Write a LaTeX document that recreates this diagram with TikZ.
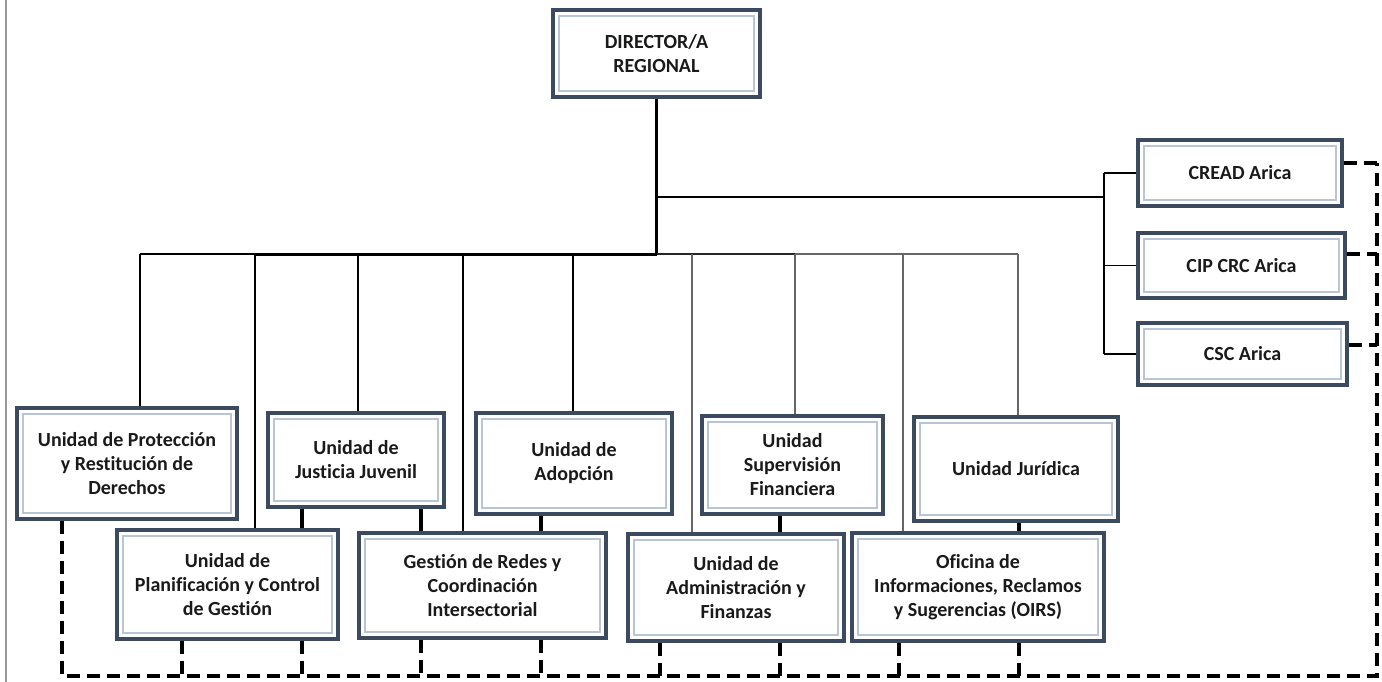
\documentclass[tikz,border=0pt]{standalone}
\usepackage{fontspec}
\setmainfont{Carlito}[Ligatures=NoCommon]
\definecolor{boxc}{HTML}{3B4A5E}
\definecolor{innerc}{HTML}{B8C5D6}
\definecolor{txtc}{HTML}{1A1A1A}
\begin{document}
\begin{tikzpicture}[x=1pt,y=-1pt,
 ubox/.style={draw=boxc, line width=3.6pt, fill=white, align=center, inner sep=0pt, text=txtc,
   font=\fontsize{20}{24}\selectfont\bfseries,
   path picture={\draw[innerc, line width=1.6pt] ([shift={(6pt,6pt)}]path picture bounding box.south west) rectangle ([shift={(-6pt,-6pt)}]path picture bounding box.north east);}},
 conn/.style={line width=1.6pt, black},
 medconn/.style={line width=2.2pt, black!85},
 mainconn/.style={line width=3pt, black},
 greyconn/.style={line width=1.6pt, black!60},
 dashc/.style={line width=3.3pt, black, dash pattern=on 13pt off 7pt},
 linkc/.style={line width=3.3pt, black}]
\useasboundingbox (0,0) rectangle (1382,682);
\fill[white] (0,0) rectangle (1382,682);
\draw[black!40, line width=2pt] (6,0) -- (6,682);

% boxes
\node[ubox, minimum width=207pt, minimum height=87pt] (dir) at (656.5,53.5) {DIRECTOR/A\\REGIONAL};
\node[ubox, minimum width=220pt, minimum height=111pt] (prot) at (127,463.5) {Unidad de Protección\\y Restitución de\\Derechos};
\node[ubox, minimum width=176pt, minimum height=94pt] (just) at (356,460) {Unidad de\\Justicia Juvenil};
\node[ubox, minimum width=196pt, minimum height=101pt] (adop) at (574,463.5) {Unidad de\\Adopción};
\node[ubox, minimum width=181pt, minimum height=98pt] (sup) at (792.5,465) {Unidad\\Supervisión\\Financiera};
\node[ubox, minimum width=204pt, minimum height=104pt] (jur) at (1016,469) {Unidad Jurídica};
\node[ubox, minimum width=221pt, minimum height=109pt] (plan) at (227.5,584.5) {Unidad de\\Planificación y Control\\de Gestión};
\node[ubox, minimum width=247pt, minimum height=105pt] (gest) at (482.5,585.5) {Gestión de Redes y\\Coordinación\\Intersectorial};
\node[ubox, minimum width=216pt, minimum height=107pt] (admin) at (736,587.5) {Unidad de\\Administración y\\Finanzas};
\node[ubox, minimum width=252pt, minimum height=108pt] (oirs) at (978,587) {Oficina de\\Informaciones, Reclamos\\y Sugerencias (OIRS)};
\node[ubox, minimum width=204pt, minimum height=66pt] (cread) at (1240,173) {CREAD Arica};
\node[ubox, minimum width=207pt, minimum height=65pt] (cip) at (1241.5,265.5) {CIP CRC Arica};
\node[ubox, minimum width=209pt, minimum height=62pt] (csc) at (1242.5,354) {CSC Arica};

% solid hierarchy
\coordinate (rb) at (1104,197);
\coordinate (busL) at (140,254);
\coordinate (busA) at (255,254);
\coordinate (busB) at (795,254);
\coordinate (busR) at (1018,254);
\draw[mainconn] (dir.south) -- (dir.south |- busL);
\draw[conn] (dir.south |- rb) -- (rb);
\draw[conn] (rb |- cread.west) -- (rb |- csc.west);
\draw[conn] (rb |- cread.west) -- (cread.west);
\draw[conn] (rb |- cip.west) -- (cip.west);
\draw[conn] (rb |- csc.west) -- (csc.west);
\draw[conn] (busL) -- (busA);
\draw[mainconn] (busA) -- (dir.south |- busL);
\draw[medconn] (dir.south |- busL) -- (busB);
\draw[greyconn] (busB) -- (busR);
\coordinate (d1) at (140,254);
\coordinate (d2) at (255,254);
\coordinate (d3) at (358,254);
\coordinate (d4) at (463,254);
\coordinate (d5) at (573,254);
\coordinate (d6) at (692,254);
\coordinate (d7) at (795,254);
\coordinate (d8) at (903,254);
\coordinate (d9) at (1018,254);
\draw[conn] (d1) -- (d1 |- prot.north);
\draw[conn] (d2) -- (d2 |- plan.north);
\draw[conn] (d3) -- (d3 |- just.north);
\draw[conn] (d4) -- (d4 |- gest.north);
\draw[conn] (d5) -- (d5 |- adop.north);
\draw[greyconn] (d6) -- (d6 |- admin.north);
\draw[greyconn] (d7) -- (d7 |- sup.north);
\draw[greyconn] (d8) -- (d8 |- oirs.north);
\draw[greyconn] (d9) -- (d9 |- jur.north);

% dashed network
\coordinate (dl) at (62,676);
\coordinate (dr) at (1377,676);
\coordinate (s1) at (1377,163);
\coordinate (s2) at (1377,254);
\coordinate (s3) at (1377,345);
\draw[dashc] (dl |- prot.south) -- (dl) -- (dr) -- (s1);
\draw[dashc] (s1 -| cread.east) -- (s1);
\draw[dashc] (s2 -| cip.east) -- (s2);
\draw[dashc] (s3 -| csc.east) -- (s3);
\foreach \x/\n in {182/plan,302/plan,421/gest,541/gest,660/admin,780/admin,899/oirs,1019/oirs}
  \draw[dashc] (\n.south -| \x,676) -- (\x,676);
% short links between rows
\draw[linkc] (just.south -| 302,0) -- (plan.north -| 302,0);
\draw[linkc] (just.south -| 421,0) -- (gest.north -| 421,0);
\draw[linkc] (adop.south -| 541,0) -- (gest.north -| 541,0);
\draw[linkc] (sup.south -| 780,0) -- (admin.north -| 780,0);
\draw[linkc] (jur.south -| 1019,0) -- (oirs.north -| 1019,0);
\end{tikzpicture}
\end{document}
